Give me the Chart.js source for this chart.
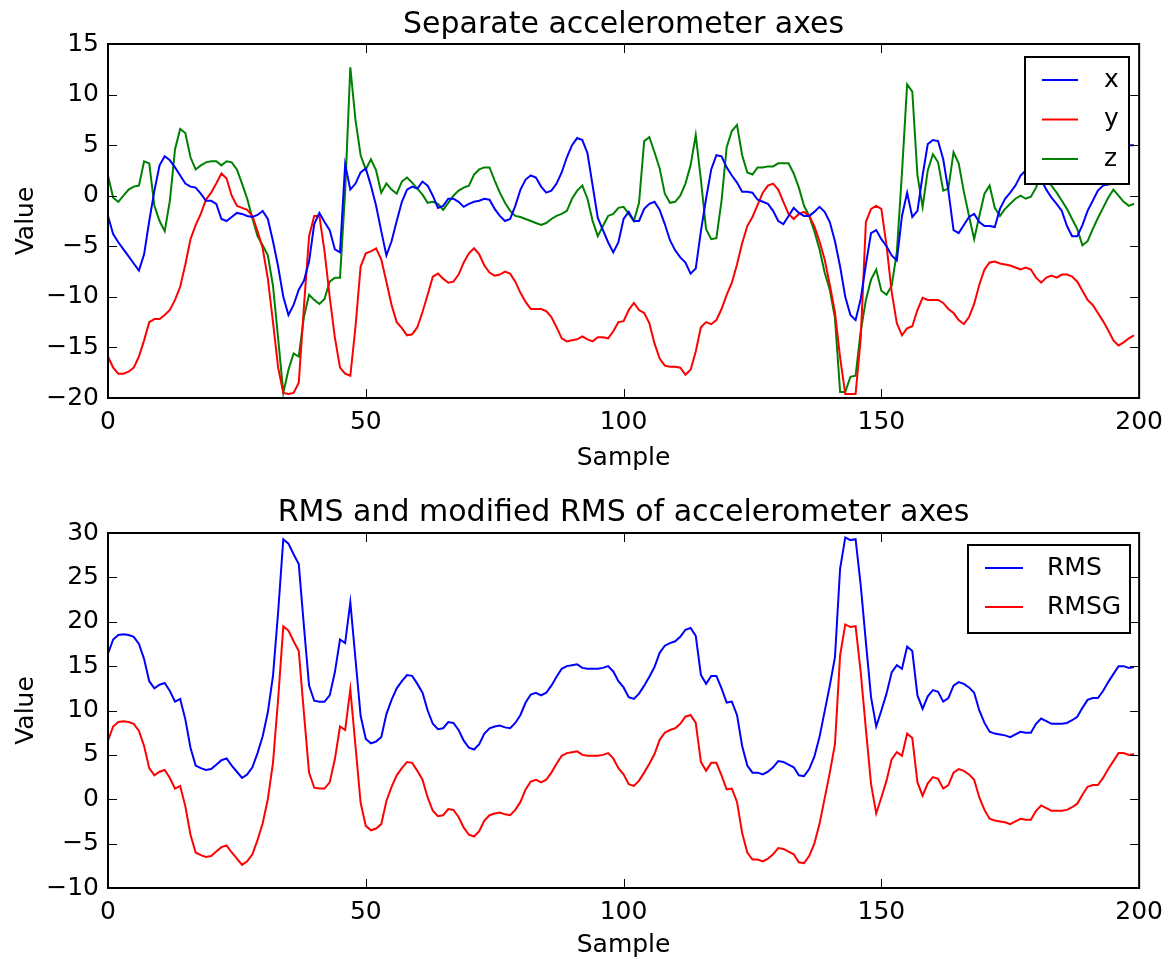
<!DOCTYPE html>
<html>
<head>
<meta charset="utf-8">
<script src="https://cdn.jsdelivr.net/npm/chart.js@4/dist/chart.umd.min.js"></script>
<style>
  body { margin: 0; background: #fff; overflow: hidden; }
  canvas { position: absolute; left: 0; }
  #axesChart { top: 0; }
  #rmsChart { top: 480px; }
</style>
</head>
<body>
<canvas id="axesChart" width="1172" height="480"></canvas>
<canvas id="rmsChart" width="1172" height="484"></canvas>
<script>
const samples = Array.from({length: 200}, (_, i) => i);

const accX = [
  -2.0, -3.8, -4.6, -5.3, -6.0, -6.7, -7.4, -5.8, -2.5, 0.5,
  3.0, 3.9, 3.5, 2.8, 2.0, 1.2, 0.9, 0.8, 0.2, -0.5,
  -0.5, -0.8, -2.3, -2.5, -2.1, -1.7, -1.8, -2.0, -2.1, -1.9,
  -1.5, -2.3, -4.5, -7.0, -10.0, -11.8, -10.8, -9.3, -8.4, -6.5,
  -2.8, -1.7, -2.6, -3.4, -5.3, -5.6, 3.1, 0.6, 1.2, 2.3,
  2.7, 1.0, -1.0, -3.5, -5.9, -4.5, -2.5, -0.6, 0.6, 0.9,
  0.7, 1.4, 1.0, 0.0, -1.2, -1.0, -0.3, -0.3, -0.6, -1.1,
  -0.8, -0.6, -0.5, -0.3, -0.4, -1.3, -2.0, -2.5, -2.3, -1.0,
  0.6, 1.6, 2.0, 1.8, 0.9, 0.3, 0.5, 1.2, 2.3, 3.8,
  5.0, 5.7, 5.5, 4.2, 1.0, -2.2, -3.4, -4.6, -5.6, -4.6,
  -2.3, -1.6, -2.5, -2.5, -1.3, -0.8, -0.6, -1.4, -2.8, -4.4,
  -5.4, -6.1, -6.6, -7.7, -7.2, -3.5, -0.3, 2.6, 4.0, 3.9,
  2.8, 2.0, 1.3, 0.4, 0.4, 0.3, -0.4, -0.6, -0.8, -1.5,
  -2.5, -2.8, -2.0, -1.2, -1.7, -2.0, -2.0, -1.6, -1.1, -1.6,
  -2.6, -4.5, -7.0, -10.0, -11.8, -12.3, -10.2, -6.8, -3.7, -3.4,
  -4.3, -5.0, -5.9, -6.4, -2.0, 0.3, -2.1, -1.5, 2.0, 5.1,
  5.5, 5.4, 3.6, 0.5, -3.4, -3.7, -2.9, -2.1, -1.8, -2.6,
  -3.0, -3.0, -3.1, -1.3, -0.3, 0.3, 1.0, 2.0, 2.5, 2.6,
  2.2, 1.6, 0.6, -0.2, -0.8, -1.5, -3.0, -4.0, -4.0, -2.9,
  -1.5, -0.5, 0.5, 1.0, 1.1, 1.2, 2.5, 3.9, 5.0, 5.0
];

const accY = [
  -15.9, -17.0, -17.6, -17.6, -17.4, -17.0, -15.9, -14.3, -12.5, -12.2,
  -12.2, -11.8, -11.3, -10.3, -9.0, -6.8, -4.3, -2.9, -1.8, -0.4,
  0.3, 1.2, 2.2, 1.7, 0.0, -1.0, -1.2, -1.4, -2.0, -3.5,
  -5.2, -8.2, -12.5, -17.0, -19.5, -19.6, -19.5, -18.5, -11.0, -4.0,
  -2.0, -2.0, -5.5, -10.0, -14.0, -17.0, -17.6, -17.8, -13.0, -7.0,
  -5.7, -5.5, -5.2, -6.3, -8.5, -10.8, -12.5, -13.1, -13.8, -13.7,
  -13.0, -11.5, -9.8, -8.0, -7.7, -8.2, -8.6, -8.5, -7.8, -6.6,
  -5.7, -5.2, -5.8, -6.9, -7.6, -7.9, -7.8, -7.5, -7.7, -8.5,
  -9.6, -10.5, -11.2, -11.2, -11.2, -11.4, -12.0, -13.0, -14.1, -14.4,
  -14.3, -14.2, -13.9, -14.2, -14.4, -14.0, -14.0, -14.1, -13.4, -12.5,
  -12.4, -11.3, -10.6, -11.3, -11.6, -12.6, -14.6, -16.1, -16.8, -16.9,
  -16.9, -17.0, -17.7, -17.2, -15.4, -13.0, -12.5, -12.7, -12.3, -11.2,
  -9.8, -8.6, -6.8, -4.7, -3.0, -2.1, -0.9, 0.3, 1.0, 1.2,
  0.6, -0.6, -1.8, -2.3, -1.8, -1.6, -2.0, -3.0, -4.5, -6.3,
  -8.8, -11.5, -16.0, -19.6, -19.6, -19.6, -14.1, -2.6, -1.3, -1.0,
  -1.3, -4.9, -9.5, -12.6, -13.8, -13.1, -12.9, -11.3, -10.1, -10.3,
  -10.3, -10.3, -10.6, -11.2, -11.6, -12.3, -12.7, -12.0, -10.7, -8.8,
  -7.3, -6.6, -6.5, -6.7, -6.8, -6.9, -7.1, -7.3, -7.1, -7.3,
  -8.1, -8.6, -8.1, -7.9, -8.1, -7.8, -7.8, -8.0, -8.5, -9.4,
  -10.3, -10.8, -11.6, -12.4, -13.3, -14.3, -14.8, -14.5, -14.1, -13.8
];

const accZ = [
  2.0, -0.2, -0.6, 0.0, 0.6, 0.9, 1.0, 3.4, 3.2, -1.0,
  -2.5, -3.5, -0.5, 4.6, 6.6, 6.2, 3.8, 2.6, 3.0, 3.3,
  3.4, 3.4, 3.0, 3.4, 3.3, 2.6, 1.2, -0.3, -2.2, -4.0,
  -4.9, -5.9, -8.9, -14.1, -19.5, -17.2, -15.6, -15.9, -12.0, -9.8,
  -10.3, -10.7, -10.2, -8.5, -8.1, -8.1, 0.5, 12.7, 7.5, 4.0,
  2.6, 3.6, 2.5, 0.3, 1.2, 0.6, 0.2, 1.4, 1.8, 1.3,
  0.7, 0.1, -0.7, -0.6, -0.8, -1.4, -0.7, 0.0, 0.5, 0.8,
  1.0, 2.1, 2.6, 2.8, 2.8, 1.5, 0.3, -0.7, -1.5, -2.0,
  -2.1, -2.3, -2.5, -2.7, -2.9, -2.7, -2.3, -2.0, -1.8, -1.5,
  -0.3, 0.5, 1.0, -0.3, -2.5, -4.0, -3.0, -2.0, -1.8, -1.2,
  -1.1, -1.8, -2.5, -0.7, 5.4, 5.8, 4.3, 2.7, 0.2, -0.7,
  -0.6, 0.0, 1.2, 3.0, 6.0, 1.6, -3.3, -4.3, -4.2, -0.5,
  4.8, 6.4, 7.0, 4.0, 2.3, 2.1, 2.8, 2.8, 2.9, 2.9,
  3.2, 3.2, 3.2, 2.2, 0.8, -1.0, -2.0, -3.5, -5.3, -7.6,
  -9.3, -12.1, -19.4, -19.4, -17.9, -17.8, -13.4, -10.3, -8.3, -7.3,
  -9.4, -9.8, -8.9, -5.6, 2.3, 11.0, 10.3, 2.0, -1.1, 2.5,
  4.1, 3.3, 0.5, 0.7, 4.3, 3.2, 0.4, -2.0, -4.3, -2.0,
  0.2, 1.0, -1.2, -2.0, -1.3, -0.8, -0.3, 0.0, -0.3, -0.1,
  0.8, 2.2, 1.5, 1.0, 0.3, -0.5, -1.3, -2.3, -3.3, -4.9,
  -4.5, -3.3, -2.2, -1.2, -0.2, 0.6, 0.0, -0.6, -1.0, -0.8
];

const rms = [
  16.4, 18.0, 18.5, 18.6, 18.5, 18.3, 17.5, 15.8, 13.3, 12.5,
  12.9, 13.1, 12.2, 11.0, 11.3, 9.0, 5.8, 3.8, 3.5, 3.3,
  3.4, 3.9, 4.4, 4.6, 3.8, 3.1, 2.4, 2.8, 3.6, 5.2,
  7.1, 9.8, 13.9, 21.1, 29.3, 28.8, 27.6, 26.5, 19.5, 12.8,
  11.1, 11.0, 11.0, 11.7, 14.3, 18.0, 17.6, 22.2, 15.8, 9.4,
  6.8, 6.3, 6.5, 7.0, 9.6, 11.2, 12.5, 13.3, 14.0, 13.9,
  13.0, 12.0, 10.0, 8.5, 7.9, 8.0, 8.7, 8.6, 7.8, 6.6,
  5.8, 5.6, 6.2, 7.4, 8.0, 8.2, 8.3, 8.1, 8.0, 8.6,
  9.5, 10.9, 11.8, 12.0, 11.7, 12.0, 12.8, 13.8, 14.7, 15.0,
  15.1, 15.2, 14.8, 14.7, 14.7, 14.7, 14.8, 15.0, 14.4, 13.3,
  12.6, 11.5, 11.3, 11.9, 12.8, 13.8, 14.9, 16.5, 17.3, 17.6,
  17.8, 18.3, 19.1, 19.3, 18.4, 14.0, 13.0, 13.9, 13.9, 12.5,
  10.9, 11.0, 9.5, 6.0, 3.8, 3.0, 3.0, 2.8, 3.1, 3.6,
  4.3, 4.2, 3.9, 3.6, 2.7, 2.6, 3.4, 4.8, 7.0, 9.9,
  12.8, 16.0, 26.0, 29.5, 29.2, 29.3, 24.1, 17.7, 11.5, 8.2,
  10.0, 11.9, 14.3, 15.1, 14.7, 17.2, 16.7, 11.7, 10.2, 11.6,
  12.3, 12.1, 11.0, 11.4, 12.8, 13.2, 13.0, 12.6, 12.0, 10.0,
  8.6, 7.6, 7.4, 7.3, 7.2, 7.0, 7.3, 7.6, 7.5, 7.5,
  8.5, 9.1, 8.8, 8.5, 8.5, 8.5, 8.6, 8.9, 9.3, 10.3,
  11.2, 11.4, 11.4, 12.2, 13.2, 14.1, 15.0, 15.0, 14.8, 14.9
];

const rmsg = [
  6.6, 8.2, 8.7, 8.8, 8.7, 8.5, 7.7, 6.0, 3.5, 2.7,
  3.1, 3.3, 2.4, 1.2, 1.5, -0.8, -4.0, -6.0, -6.3, -6.5,
  -6.4, -5.9, -5.4, -5.2, -6.0, -6.7, -7.4, -7.0, -6.2, -4.6,
  -2.7, 0.0, 4.1, 11.3, 19.5, 19.0, 17.8, 16.7, 9.7, 3.0,
  1.3, 1.2, 1.2, 1.9, 4.5, 8.2, 7.8, 12.4, 6.0, -0.4,
  -3.0, -3.5, -3.3, -2.8, -0.2, 1.4, 2.7, 3.5, 4.2, 4.1,
  3.2, 2.2, 0.2, -1.3, -1.9, -1.8, -1.1, -1.2, -2.0, -3.2,
  -4.0, -4.2, -3.6, -2.4, -1.8, -1.6, -1.5, -1.7, -1.8, -1.2,
  -0.3, 1.1, 2.0, 2.2, 1.9, 2.2, 3.0, 4.0, 4.9, 5.2,
  5.3, 5.4, 5.0, 4.9, 4.9, 4.9, 5.0, 5.2, 4.6, 3.5,
  2.8, 1.7, 1.5, 2.1, 3.0, 4.0, 5.1, 6.7, 7.5, 7.8,
  8.0, 8.5, 9.3, 9.5, 8.6, 4.2, 3.2, 4.1, 4.1, 2.7,
  1.1, 1.2, -0.3, -3.8, -6.0, -6.8, -6.8, -7.0, -6.7, -6.2,
  -5.5, -5.6, -5.9, -6.2, -7.1, -7.2, -6.4, -5.0, -2.8, 0.1,
  3.0, 6.2, 16.2, 19.7, 19.4, 19.5, 14.3, 7.9, 1.7, -1.6,
  0.2, 2.1, 4.5, 5.3, 4.9, 7.4, 6.9, 1.9, 0.4, 1.8,
  2.5, 2.3, 1.2, 1.6, 3.0, 3.4, 3.2, 2.8, 2.2, 0.2,
  -1.2, -2.2, -2.4, -2.5, -2.6, -2.8, -2.5, -2.2, -2.3, -2.3,
  -1.3, -0.7, -1.0, -1.3, -1.3, -1.3, -1.2, -0.9, -0.5, 0.5,
  1.4, 1.6, 1.6, 2.4, 3.4, 4.3, 5.2, 5.2, 5.0, 5.1
];

const FONT = 'DejaVu Sans';
const INK = '#000';

// matplotlib-ish frame: full box plus inward ticks on all four sides
const frameTicks = {
  id: 'frameTicks',
  afterDatasetsDraw(chart) {
    const {ctx, chartArea: a, scales: {x, y}} = chart;
    const len = 9;
    ctx.save();
    ctx.strokeStyle = INK;
    ctx.lineWidth = 1;
    ctx.beginPath();
    x.ticks.forEach(t => {
      const px = Math.round(x.getPixelForValue(t.value)) + 0.5;
      ctx.moveTo(px, a.bottom); ctx.lineTo(px, a.bottom - len);
      ctx.moveTo(px, a.top); ctx.lineTo(px, a.top + len);
    });
    y.ticks.forEach(t => {
      const py = Math.round(y.getPixelForValue(t.value)) + 0.5;
      ctx.moveTo(a.left, py); ctx.lineTo(a.left + len, py);
      ctx.moveTo(a.right, py); ctx.lineTo(a.right - len, py);
    });
    ctx.stroke();
    ctx.lineWidth = 2;
    ctx.strokeRect(a.left, a.top, a.right - a.left, a.bottom - a.top);
    ctx.restore();
  }
};

// boxed legend in the upper right corner
const boxLegend = {
  id: 'boxLegend',
  afterDraw(chart, args, opts) {
    const {ctx} = chart;
    ctx.save();
    ctx.fillStyle = '#fff';
    ctx.fillRect(opts.left, opts.top, opts.width, opts.height);
    ctx.strokeStyle = INK;
    ctx.lineWidth = 2;
    ctx.strokeRect(opts.left, opts.top, opts.width, opts.height);
    ctx.font = '25px "' + FONT + '"';
    ctx.textBaseline = 'middle';
    ctx.textAlign = 'left';
    chart.data.datasets.forEach((ds, i) => {
      const yy = opts.rowY + i * opts.rowGap;
      ctx.strokeStyle = ds.borderColor;
      ctx.lineWidth = 2;
      ctx.beginPath();
      ctx.moveTo(opts.lineX0, yy);
      ctx.lineTo(opts.lineX1, yy);
      ctx.stroke();
      ctx.fillStyle = INK;
      ctx.fillText(ds.label, opts.textX, yy);
    });
    ctx.restore();
  }
};

function minusSign(v) {
  return v < 0 ? '\u2212' + Math.abs(v) : String(v);
}

function series(label, values, color) {
  return {
    label: label,
    data: values,
    borderColor: color,
    backgroundColor: color,
    borderWidth: 2,
    pointRadius: 0,
    tension: 0
  };
}

function makeChart(id, cfg) {
  return new Chart(document.getElementById(id), {
    type: 'line',
    data: {labels: samples, datasets: cfg.datasets},
    options: {
      responsive: false,
      animation: false,
      events: [],
      layout: {padding: {left: 0, right: 31, top: 0, bottom: 0}},
      plugins: {
        legend: {display: false},
        tooltip: {enabled: false},
        title: {
          display: true,
          fullSize: false,
          text: cfg.title,
          color: INK,
          font: {family: FONT, size: 30, weight: 'normal'},
          padding: cfg.titlePad
        },
        boxLegend: cfg.legend
      },
      scales: {
        x: {
          type: 'linear',
          min: 0, max: 200,
          grid: {display: false, drawTicks: false},
          border: {display: false},
          ticks: {stepSize: 50, color: INK, padding: 9, maxRotation: 0,
                  font: {family: FONT, size: 25}},
          title: {display: true, text: 'Sample', color: INK,
                  font: {family: FONT, size: 25}, padding: {top: 0, bottom: cfg.xTitlePad}},
          afterFit: s => { s.height = cfg.xHeight; }
        },
        y: {
          min: cfg.yMin, max: cfg.yMax,
          grid: {display: false, drawTicks: false},
          border: {display: false},
          ticks: {stepSize: 5, color: INK, padding: 9, callback: minusSign,
                  font: {family: FONT, size: 25}},
          title: {display: true, text: 'Value', color: INK,
                  font: {family: FONT, size: 25}, padding: {top: 11, bottom: 0}},
          afterFit: s => { s.width = 108; }
        }
      }
    },
    plugins: [frameTicks, boxLegend]
  });
}

makeChart('axesChart', {
  title: 'Separate accelerometer axes',
  titlePad: {top: 7, bottom: 1},
  yMin: -20, yMax: 15,
  xHeight: 82,
  xTitlePad: 7,
  datasets: [
    series('x', accX, '#0000ff'),
    series('y', accY, '#ff0000'),
    series('z', accZ, '#008000')
  ],
  legend: {left: 1025, top: 57, width: 104, height: 127,
           lineX0: 1042, lineX1: 1078, textX: 1104, rowY: 80, rowGap: 39.5}
});

makeChart('rmsChart', {
  title: 'RMS and modified RMS of accelerometer axes',
  titlePad: {top: 15, bottom: 2},
  yMin: -10, yMax: 30,
  xHeight: 76,
  xTitlePad: 4,
  datasets: [
    series('RMS', rms, '#0000ff'),
    series('RMSG', rmsg, '#ff0000')
  ],
  legend: {left: 968, top: 65, width: 162, height: 88,
           lineX0: 985, lineX1: 1023, textX: 1047, rowY: 88, rowGap: 39}
});
</script>
</body>
</html>
